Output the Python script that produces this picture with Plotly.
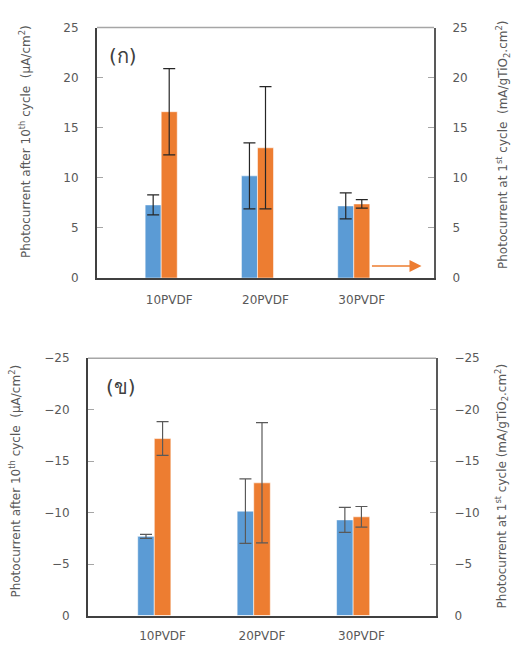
import plotly.graph_objects as go

categories = ["10PVDF", "20PVDF", "30PVDF"]

# Panel (ก)
top_blue = [7.3, 10.2, 7.2]
top_blue_err = [1.0, 3.3, 1.3]
top_orange = [16.6, 13.0, 7.4]
top_orange_err = [4.3, 6.1, 0.42]

# Panel (ข)
bot_blue = [-7.7, -10.15, -9.3]
bot_blue_err = [0.19, 3.14, 1.22]
bot_orange = [-17.2, -12.9, -9.6]
bot_orange_err = [1.64, 5.84, 1.0]

tick_vals_top = [0, 5, 10, 15, 20, 25]
tick_vals_bot = [0, -5, -10, -15, -20, -25]

arrow_tail = (2.09, 1.2)
arrow_head = (2.62, 1.2)

BLUE = "#5B9BD5"
ORANGE = "#ED7D31"
GREY = "#595959"
FONT = "DejaVu Sans"
W = 1 / 6

fig = go.Figure()

def bars(x, y, err, color, xa, ya, offset, errcolor):
    return go.Bar(
        x=x, y=y, xaxis=xa, yaxis=ya, width=W, offset=offset,
        marker=dict(color=color, line=dict(color="rgba(255,255,255,0.55)", width=1)),
        error_y=dict(type="data", array=err, visible=True, color=errcolor,
                     thickness=1.2, width=6),
        showlegend=False,
    )

fig.add_trace(bars(categories, top_blue, top_blue_err, BLUE, "x", "y", -0.25, "#262626"))
fig.add_trace(bars(categories, top_orange, top_orange_err, ORANGE, "x", "y2", -1 / 12, "#262626"))
fig.add_trace(bars(categories, bot_blue, bot_blue_err, BLUE, "x2", "y3", -0.25, GREY))
fig.add_trace(bars(categories, bot_orange, bot_orange_err, ORANGE, "x2", "y4", -1 / 12, GREY))

tickfont = dict(family=FONT, size=12, color=GREY)

def xaxis(domain, anchor, tl):
    return dict(domain=domain, anchor=anchor, type="category", range=[-0.75, 2.75],
                showline=True, linecolor="#404040", linewidth=2,
                ticks="outside", ticklen=tl, tickcolor="rgba(0,0,0,0)",
                tickfont=tickfont, showgrid=False, zeroline=False, fixedrange=True)

def yaxis(domain, anchor, rng, vals, side, overlay=None):
    d = dict(domain=domain, anchor=anchor, range=rng, tickvals=vals, side=side,
             showline=True, linecolor="#404040" if side == "left" else GREY, linewidth=2,
             ticks="inside", ticklen=6, tickcolor="#A6A6A6", tickwidth=1,
             ticklabelstandoff=14, tickfont=tickfont,
             showgrid=False, zeroline=False, fixedrange=True)
    if overlay:
        d["overlaying"] = overlay
    return d

top_x = [97 / 512, 434 / 512]
top_y = [1 - 277 / 651, 1 - 21 / 651]
bot_x = [88 / 512, 436 / 512]
bot_y = [1 - 622 / 651, 1 - 359 / 651]

fig.update_layout(
    width=512, height=651,
    margin=dict(l=0, r=0, t=0, b=0),
    paper_bgcolor="white", plot_bgcolor="white",
    barmode="overlay",
    xaxis=xaxis(top_x, "y", 10),
    yaxis=yaxis(top_y, "x", [0, 25], tick_vals_top, "left"),
    yaxis2=yaxis(top_y, "x", [0, 25], tick_vals_top, "right", "y"),
    xaxis2=xaxis(bot_x, "y3", 8),
    yaxis3=yaxis(bot_y, "x2", [0, -25], tick_vals_bot, "left"),
    yaxis4=yaxis(bot_y, "x2", [0, -25], tick_vals_bot, "right", "y3"),
)

# top borders
for xd, yd in [(top_x, top_y), (bot_x, bot_y)]:
    fig.add_shape(type="line", xref="paper", yref="paper",
                  x0=xd[0], x1=xd[1], y0=yd[1], y1=yd[1],
                  line=dict(color="#A6A6A6", width=1.5))

titlefont = dict(family=FONT, size=12, color=GREY)
sp = "\u00a0"
annots = [
    dict(text=f"Photocurrent after 10<sup>th</sup> cycle{sp}{sp}(µA/cm<sup>2</sup>)",
         x=25 / 512, y=1 - 138 / 651),
    dict(text=f"Photocurrent at 1<sup>st</sup> cycle{sp}{sp}(mA/gTiO<sub>2</sub>.cm<sup>2</sup>)",
         x=503 / 512, y=1 - 141 / 651),
    dict(text=f"Photocurrent after 10<sup>th</sup> cycle{sp}{sp}(µA/cm<sup>2</sup>)",
         x=15 / 512, y=1 - 485 / 651),
    dict(text=f"Photocurrent at 1<sup>st</sup> cycle{sp}(mA/gTiO<sub>2</sub>.cm<sup>2</sup>)",
         x=502 / 512, y=1 - 490 / 651),
]
for a in annots:
    fig.add_annotation(text=a["text"], x=a["x"], y=a["y"], xref="paper", yref="paper",
                       textangle=-90, showarrow=False, font=titlefont,
                       xanchor="center", yanchor="middle")

fig.add_annotation(text="(ก)", x=107 / 512, y=1 - 50 / 651, xref="paper", yref="paper",
                   showarrow=False, xanchor="left", yanchor="middle",
                   font=dict(family="DejaVu Sans, Noto Sans", size=20, color="#404040"))
fig.add_annotation(text="(ข)", x=104 / 512, y=1 - 388 / 651, xref="paper", yref="paper",
                   showarrow=False, xanchor="left", yanchor="middle",
                   font=dict(family="DejaVu Sans, Noto Sans", size=20, color="#404040"))

fig.add_annotation(x=arrow_head[0], y=arrow_head[1], ax=arrow_tail[0], ay=arrow_tail[1],
                   xref="x", yref="y", axref="x", ayref="y", text="",
                   showarrow=True, arrowhead=2, arrowsize=1.6, arrowwidth=1.5,
                   arrowcolor=ORANGE)

fig.write_html("out.html")
